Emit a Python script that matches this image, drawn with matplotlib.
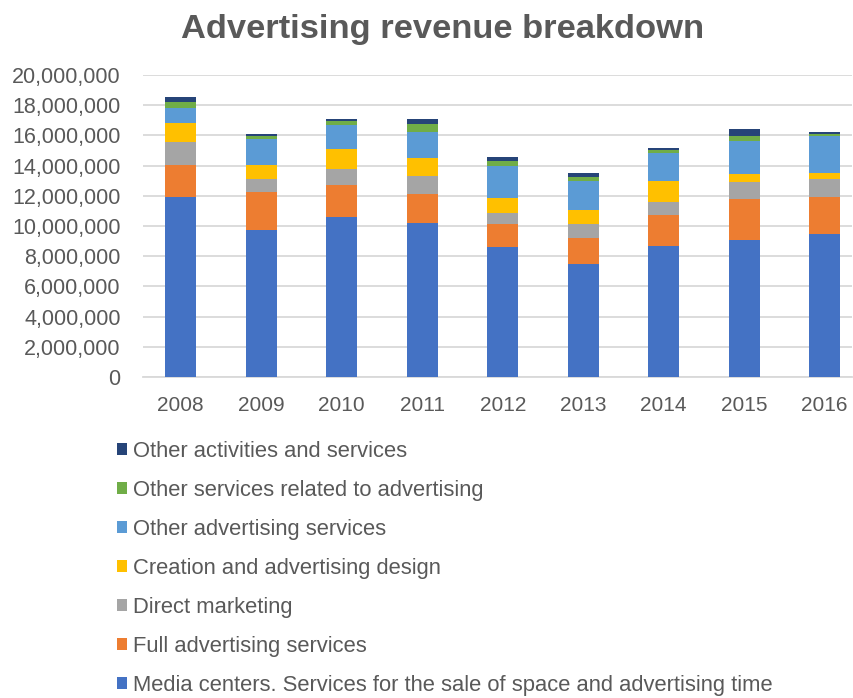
import matplotlib
matplotlib.use("Agg")
import matplotlib.pyplot as plt
from matplotlib.patches import Patch
from matplotlib.ticker import FuncFormatter
import numpy as np

plt.rcParams['font.family'] = ['Liberation Sans', 'DejaVu Sans']

years = ['2008', '2009', '2010', '2011', '2012', '2013', '2014', '2015', '2016']

media_centers = [11.93, 9.74, 10.58, 10.21, 8.58, 7.47, 8.66, 9.04, 9.44]
full_advertising = [2.14, 2.52, 2.12, 1.94, 1.54, 1.74, 2.04, 2.73, 2.51]
direct_marketing = [1.46, 0.82, 1.08, 1.15, 0.77, 0.89, 0.92, 1.11, 1.15]
creation_design = [1.27, 0.97, 1.29, 1.21, 0.97, 0.99, 1.35, 0.55, 0.42]
other_advertising = [1.02, 1.68, 1.59, 1.72, 2.08, 1.88, 1.83, 2.21, 2.47]
other_related = [0.36, 0.22, 0.26, 0.49, 0.33, 0.26, 0.22, 0.29, 0.13]
other_activities = [0.38, 0.15, 0.17, 0.37, 0.33, 0.27, 0.13, 0.48, 0.11]

series_names = [
    'Media centers. Services for the sale of space and advertising time',
    'Full advertising services',
    'Direct marketing',
    'Creation and advertising design',
    'Other advertising services',
    'Other services related to advertising',
    'Other activities and services',
]
series_values = [media_centers, full_advertising, direct_marketing, creation_design,
                 other_advertising, other_related, other_activities]
series_colors = ['#4472C4', '#ED7D31', '#A5A5A5', '#FFC000', '#5B9BD5', '#70AD47', '#264478']

fig = plt.figure(figsize=(8.54, 6.98), dpi=100)
ax = fig.add_axes([0.1674, 0.4599, 0.8303, 0.4327])

x = np.arange(len(years))
bottom = np.zeros(len(years))
for name, vals, col in zip(series_names, series_values, series_colors):
    v = np.array(vals) * 1e6
    ax.bar(x, v, width=0.385, bottom=bottom, color=col, label=name, zorder=3)
    bottom += v

ax.set_ylim(0, 20e6)
ax.set_yticks(np.arange(0, 20e6 + 1, 2e6))
ax.yaxis.set_major_formatter(FuncFormatter(lambda v, p: f'{int(v):,}'))
ax.set_xlim(-0.47, 8.34)
ax.set_xticks(x)
ax.set_xticklabels(years)

ax.grid(axis='y', color='#D9D9D9', linewidth=1.3, zorder=0)
for s in ['top', 'right', 'left']:
    ax.spines[s].set_visible(False)
ax.spines['bottom'].set_color('#D9D9D9')
ax.spines['bottom'].set_linewidth(1.3)
ax.tick_params(axis='both', length=0, colors='#595959')
ax.tick_params(axis='y', pad=16, labelsize=15.5)
ax.tick_params(axis='x', pad=14, labelsize=15)

fig.text(0.518, 0.958, 'Advertising revenue breakdown', ha='center', va='center',
         fontsize=24.8, fontweight='bold', color='#595959')

handles = [Patch(facecolor=c, edgecolor='none') for c in series_colors][::-1]
labels = series_names[::-1]
fig.legend(handles, labels, loc='upper left', bbox_to_anchor=(0.137, 0.368),
           frameon=False, fontsize=15.8, handlelength=0.45, handleheight=0.45,
           handletextpad=0.3, labelspacing=0.82, labelcolor='#595959',
           borderaxespad=0, borderpad=0)

fig.savefig('out.png', dpi=100, facecolor='white')
